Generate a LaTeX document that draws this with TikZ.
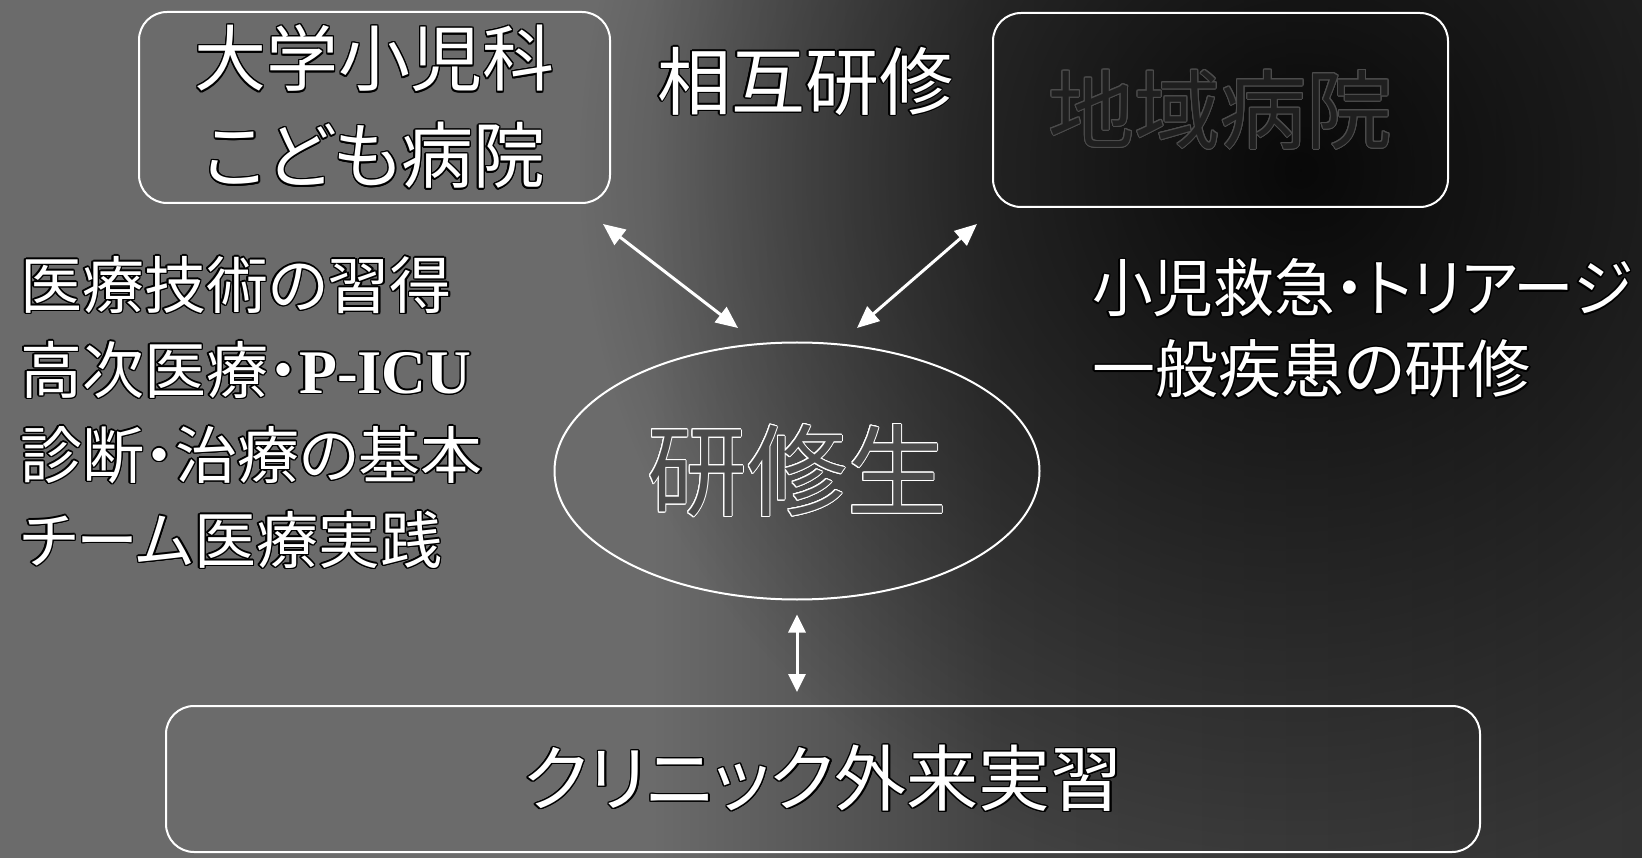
\documentclass[tikz,border=0pt]{standalone}
\usepackage{fontspec}
\usepackage{contour}
\usetikzlibrary{arrows.meta,shapes.geometric,calc,fadings}
\newfontfamily\jp{Noto Sans CJK JP}[RawFeature=+palt]
\newfontfamily\lserif{Liberation Serif}
\contourlength{1.4pt}
\contournumber{16}
\newcommand\wt[1]{\contour{black}{#1}}
\definecolor{bgA}{gray}{0.42}
\definecolor{bgB}{gray}{0.26}
\definecolor{bgC}{gray}{0.20}
\tikzfading[name=blob, inner color=transparent!0, outer color=transparent!100]
\tikzset{
  box/.style={draw=white, line width=2pt, rounded corners=28pt, inner sep=0pt, text=white, align=center},
  lbl/.style={inner sep=0pt, text=white, align=left},
  tipA/.tip={Triangle[length=22pt,width=19pt]},
  tipB/.tip={Triangle[length=18pt,width=17pt]},
  arr/.style={draw=white, line width=3pt, tipA-tipA},
  arrv/.style={draw=white, line width=3pt, tipB-tipB}
}
\begin{document}
\begin{tikzpicture}[x=1pt,y=-1pt]
\useasboundingbox (0,0) rectangle (1642,858);
% background
\begin{scope}
\clip (0,0) rectangle (1642,858);
\fill[bgA] (0,0) rectangle (651,858);
\shade[left color=bgA, right color=bgB] (650,0) rectangle (1001,858);
\shade[left color=bgB, right color=bgC] (1000,0) rectangle (1642,858);
\fill[black, path fading=blob, fill opacity=0.85] (1300,170) circle[radius=720];
\end{scope}
% nodes
\node[box, minimum width=471pt, minimum height=191pt, font=\jp\fontsize{72}{97}\selectfont] (uni) at (374.5,107.5) {\wt{大学小児科}\\\wt{こども病院}};
\node[box, minimum width=455pt, minimum height=194pt, text=black!88, font=\jp\fontsize{86}{86}\selectfont] (reg) at (1220.5,110) {\contourlength{0.9pt}\contour{gray!60!black}{地域病院}};
\node[lbl, font=\jp\fontsize{74}{74}\selectfont] (mutual) at (805,82) {\wt{相互研修}};
\node[ellipse, draw=white, line width=2pt, minimum width=485pt, minimum height=257pt, inner sep=0pt, text=black!70, font=\jp\fontsize{100}{100}\selectfont] (ell) at (797,471) {\contourlength{1pt}\contour{white}{研修生}};
\node[lbl, anchor=west, font=\jp\fontsize{62}{85}\selectfont] (skills) at (20,413) {\wt{医療技術の習得}\\\wt{高次医療・{\lserif\bfseries P-ICU}}\\\wt{診断・治療の基本}\\\wt{チーム医療実践}};
\node[lbl, anchor=west, font=\jp\fontsize{63}{81}\selectfont] (er) at (1092,329) {\resizebox{540pt}{\height}{\wt{小児救急・トリアージ}}\\\wt{一般疾患の研修}};
\node[box, minimum width=1314pt, minimum height=146pt, font=\jp\fontsize{72}{72}\selectfont] (clinic) at (823,779) {\wt{クリニック外来実習}};
% connectors
\coordinate (p1) at ($(uni.south east)+(-8,20)$);
\coordinate (q1) at ($(ell.center)+(-59,-143)$);
\draw[arr] (p1) -- (q1);
\coordinate (p2) at ($(reg.south west)+(-15,16)$);
\coordinate (q2) at ($(ell.center)+(60,-143)$);
\draw[arr] (p2) -- (q2);
\draw[arrv, shorten <=14pt, shorten >=13pt] (ell.south) -- (ell.south |- clinic.north);
\end{tikzpicture}
\end{document}
